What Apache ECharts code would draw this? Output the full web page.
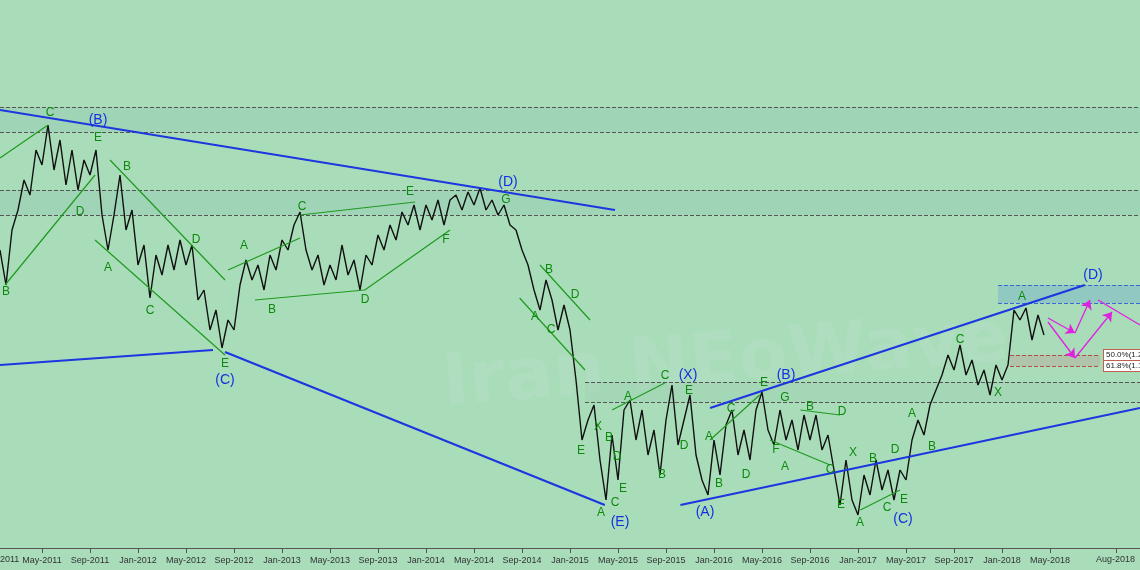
<!DOCTYPE html>
<html><head><meta charset="utf-8">
<script src="https://cdn.jsdelivr.net/npm/echarts@6/dist/echarts.min.js"></script>
<style>html,body{margin:0;padding:0;background:#a9ddba}#c{width:1140px;height:570px}</style>
</head><body><div id="c"></div>
<script>
// price levels, one per half month starting at month 0.5 (Jan-2011 = month 0)
const priceLevels = [298,263,318,338,368,353,398,383,423,378,408,363,398,358,388,373,398,333,298,333,
373,318,338,283,303,250,293,273,303,278,308,283,303,248,258,218,238,200,228,218,
263,288,268,283,258,293,278,308,298,323,336,298,278,293,263,283,268,303,273,288,
258,293,283,313,298,323,308,336,323,343,318,343,328,348,323,348,353,338,356,343,
360,338,348,333,343,323,318,298,283,258,238,268,248,218,243,218,168,108,128,143,
88,48,113,68,138,148,108,138,93,118,73,128,163,103,128,153,93,68,53,108,
73,123,138,93,118,88,138,156,118,103,138,108,128,98,133,108,133,98,113,78,
43,88,48,33,73,53,88,58,78,48,78,68,108,128,113,143,158,173,193,178,
203,173,188,163,178,153,183,168,183,238,228,240,208,233,213];
const tickMonths = [0,4,8,12,16,20,24,28,32,36,40,44,48,52,56,60,64,68,72,76,80,84,88];
const tickLabels = ["Jan-2011","May-2011","Sep-2011","Jan-2012","May-2012","Sep-2012","Jan-2013","May-2013","Sep-2013","Jan-2014","May-2014","Sep-2014","Jan-2015","May-2015","Sep-2015","Jan-2016","May-2016","Sep-2016","Jan-2017","May-2017","Sep-2017","Jan-2018","May-2018"];
const lastTickLabel = "Aug-2018";
const blueLines = [[[0.5,183],[18.25,198]],[[0.5,438],[51.75,338]],[[19.25,196],[50.9,43]],[[57.2,43],[95.5,140]],[[59.67,140],[90.9,263]]];
const greenLines = [[[0.5,390],[4.5,423]],[[0.92,263],[8.42,373]],[[9.67,388],[19.25,268]],[[8.42,308],[19.25,193]],
[[19.5,278],[25.5,310]],[[21.75,248],[30.9,258]],[[25.5,333],[35.1,346]],[[30.9,258],[38,318]],
[[43.8,250],[49.25,178]],[[45.5,283],[49.67,228]],[[51.5,138],[55.9,165]],[[59.67,108],[63.8,153]],
[[64.67,108],[69.67,83]],[[67.2,138],[70.5,133]],[[72.2,38],[75.5,58]]];
const dashLevels = [441,416,358,333];
const partialDash = [[[49.25,166],[95.5,166]],[[49.25,146],[95.5,146]]];
const magentaArrows = [[[87.83,230],[90.08,215]],[[90.08,215],[91.33,248]],[[87.83,226],[90.08,190]],[[90.08,190],[93.17,236]]];
const magentaLine = [[[92,248],[95.5,223]]];
const blueLabels = [[8.67,428,"(B)"],[19.25,168,"(C)"],[42.83,366,"(D)"],[52.17,26,"(E)"],[57.83,173,"(X)"],[66,173,"(B)"],[59.25,36,"(A)"],[75.75,29,"(C)"],[91.58,273,"(D)"]];
const greenLabels = [[4.67,435,"C"],[8.67,410,"E"],[1,256,"B"],[7.17,336,"D"],[11.08,381,"B"],[9.5,280,"A"],[13,237,"C"],[16.83,308,"D"],[19.25,184,"E"],[20.83,302,"A"],[23.17,238,"B"],[25.67,341,"C"],[30.92,248,"D"],[34.67,356,"E"],[37.67,308,"F"],[42.67,348,"G"],[46.25,278,"B"],[45.08,231,"A"],[46.42,218,"C"],[48.42,253,"D"],[50.33,121,"X"],[48.92,97,"E"],[51.25,110,"B"],[51.92,91,"D"],[52.42,59,"E"],[51.75,45,"C"],[50.58,35,"A"],[52.83,151,"A"],[55.92,172,"C"],[57.92,157,"E"],[55.67,73,"B"],[57.5,102,"D"],[59.58,111,"A"],[60.42,64,"B"],[61.42,139,"C"],[62.67,73,"D"],[64.17,165,"E"],[65.17,98,"F"],[65.92,150,"G"],[65.92,81,"A"],[68,141,"B"],[69.67,78,"C"],[70.67,136,"D"],[70.58,43,"E"],[71.58,95,"X"],[72.17,25,"A"],[73.25,89,"B"],[74.42,40,"C"],[75.08,98,"D"],[75.83,48,"E"],[76.5,134,"A"],[78.17,101,"B"],[80.5,208,"C"],[83.67,155,"X"],[85.67,251,"A"]];
const fibLabels = [[92.5,193,"50.0%(1.2075)"],[92.5,182,"61.8%(1.1846)"]];

const priceData = priceLevels.map((v,i)=>[0.5+i*0.5,v]);
const seg = (arr)=>arr.map(s=>({coords:s}));
const chart = echarts.init(document.getElementById('c'));
chart.setOption({
  backgroundColor:'#a9ddba', animation:false,
  grid:{left:0,right:0,top:0,bottom:22},
  xAxis:{type:'value',min:0.5,max:95.5,splitLine:{show:false},
    axisLine:{lineStyle:{color:'#555'}},
    axisTick:{customValues:tickMonths.concat([93.5]),lineStyle:{color:'#555'}},
    axisLabel:{customValues:tickMonths,fontSize:9,color:'#333',fontFamily:'Liberation Sans Narrow, Liberation Sans',
      formatter:v=>tickLabels[tickMonths.indexOf(v)]||''}},
  yAxis:{type:'value',min:0,max:548,show:false},
  graphic:[
    {type:'text',left:440,top:305,rotation:0.08,style:{text:'Iran NEoWave',fontSize:72,fontWeight:'bold',fill:'rgba(200,225,215,0.2)',fontFamily:'DejaVu Sans'}},
    {type:'text',left:0,top:555,style:{text:'2011',fontSize:9,fill:'#333',fontFamily:'Liberation Sans Narrow, Liberation Sans'}},
    {type:'text',left:1096,top:555,style:{text:lastTickLabel,fontSize:9,fill:'#333',fontFamily:'Liberation Sans Narrow, Liberation Sans'}}
  ],
  series:[
    {type:'line',data:priceData,symbol:'none',lineStyle:{color:'#111',width:1.4},z:5,
      markArea:{silent:true,data:[
        [{yAxis:441,itemStyle:{color:'rgba(120,170,170,0.18)'}},{yAxis:416}],
        [{yAxis:358,itemStyle:{color:'rgba(120,170,170,0.18)'}},{yAxis:333}],
        [{xAxis:49.25,yAxis:166,itemStyle:{color:'rgba(120,175,160,0.12)'}},{xAxis:95.5,yAxis:146}],
        [{xAxis:83.67,yAxis:263,itemStyle:{color:'rgba(110,170,205,0.4)'}},{xAxis:95.5,yAxis:245}],
        [{xAxis:84.67,yAxis:193,itemStyle:{color:'rgba(185,150,140,0.35)'}},{xAxis:92.17,yAxis:182}]]},
      markLine:{silent:true,symbol:'none',label:{show:false},lineStyle:{color:'#555',type:'dashed',width:1},
        data:dashLevels.map(v=>({yAxis:v}))}},
    {type:'lines',coordinateSystem:'cartesian2d',data:seg(partialDash),lineStyle:{color:'#555',type:'dashed',width:1,opacity:1}},
    {type:'lines',coordinateSystem:'cartesian2d',data:seg([[[83.67,263],[95.5,263]],[[83.67,245],[95.5,245]]]),lineStyle:{color:'#3a6ad0',type:'dashed',width:1,opacity:1}},
    {type:'lines',coordinateSystem:'cartesian2d',data:seg([[[84.67,193],[92.17,193]],[[84.67,182],[92.17,182]]]),lineStyle:{color:'#b05040',type:'dashed',width:1,opacity:1}},
    {type:'lines',coordinateSystem:'cartesian2d',data:seg(blueLines),lineStyle:{color:'#1c36e0',width:2.2,opacity:1},z:6},
    {type:'lines',coordinateSystem:'cartesian2d',data:seg(greenLines),lineStyle:{color:'#1f9a1f',width:1.2,opacity:1},z:6},
    {type:'lines',coordinateSystem:'cartesian2d',data:seg(magentaArrows),symbol:['none','arrow'],symbolSize:9,lineStyle:{color:'#e020e0',width:1.3,opacity:1},z:6},
    {type:'lines',coordinateSystem:'cartesian2d',data:seg(magentaLine),lineStyle:{color:'#e020e0',width:1.3,opacity:1},z:6},
    {type:'scatter',data:blueLabels,symbolSize:0,z:8,itemStyle:{opacity:1},label:{show:true,formatter:p=>p.data[2],color:'#1530e0',fontSize:14,fontFamily:'Liberation Sans'}},
    {type:'scatter',data:greenLabels,symbolSize:0,z:8,itemStyle:{opacity:1},label:{show:true,formatter:p=>p.data[2],color:'#0d8a0d',fontSize:12,fontFamily:'Liberation Sans'}},
    {type:'scatter',data:fibLabels,symbolSize:0,z:8,itemStyle:{opacity:1},label:{show:true,position:'right',distance:0,formatter:p=>p.data[2],color:'#222',fontSize:8,backgroundColor:'#fff',borderColor:'#c06050',borderWidth:1,padding:[1,2]}}
  ]
});
</script></body></html>
